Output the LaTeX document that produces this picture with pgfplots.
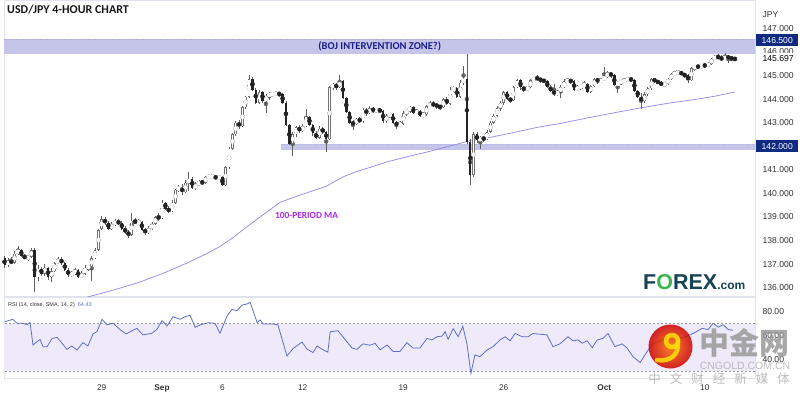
\documentclass[border=0pt]{standalone}
\usepackage{pgfplots}
\pgfplotsset{compat=1.18}
\usepackage{pgfplotstable}
\usepackage{fontspec}
\setmainfont{Liberation Sans}
\newfontfamily\carlito{Carlito}
\newfontfamily\cjk{Noto Sans CJK SC}
\definecolor{zonec}{RGB}{196,197,232}
\definecolor{zoneedge}{RGB}{172,172,222}
\definecolor{wickc}{RGB}{95,95,95}
\definecolor{bearc}{RGB}{35,35,35}
\definecolor{bulledge}{RGB}{115,115,115}
\definecolor{mac}{RGB}{155,138,232}
\definecolor{malabel}{RGB}{170,40,240}
\definecolor{bojc}{RGB}{30,30,140}
\definecolor{navyc}{RGB}{16,42,128}
\definecolor{rsic}{RGB}{96,110,200}
\definecolor{rsifill}{RGB}{238,234,250}
\definecolor{linegray}{RGB}{224,227,235}
\definecolor{ticktext}{RGB}{50,50,50}
\definecolor{dashc}{RGB}{150,150,160}
\definecolor{forexteal}{RGB}{22,68,82}
\definecolor{forexgreen}{RGB}{60,180,75}

\pgfplotstableread{
i o h l c
0 137.25 137.35 136.85 136.95
1 136.95 137.25 136.90 137.15
2 137.15 137.30 137.00 137.05
3 137.05 137.55 137.00 137.45
4 137.45 137.75 137.40 137.60
5 137.60 137.65 137.30 137.35
6 137.35 137.45 137.20 137.25
7 137.25 137.40 137.15 137.30
8 137.30 137.70 137.25 137.60
9 137.60 137.70 135.80 136.45
10 136.45 136.95 136.30 136.80
11 136.80 136.90 136.50 136.60
12 136.60 137.00 136.50 136.85
13 136.85 136.90 136.35 136.45
14 136.45 136.85 136.25 136.70
15 136.70 137.10 136.65 137.05
16 137.05 137.30 137.00 137.20
17 137.20 137.30 136.95 137.05
18 137.05 137.10 136.70 136.75
19 136.75 136.85 136.45 136.55
20 136.55 136.70 136.45 136.60
21 136.60 136.85 136.55 136.75
22 136.75 136.80 136.40 136.45
23 136.45 136.70 136.40 136.60
24 136.60 136.95 136.55 136.85
25 136.85 136.95 136.70 136.90
26 136.90 137.35 136.30 137.25
27 137.25 137.70 137.20 137.60
28 137.60 138.50 137.55 138.45
29 138.50 139.05 138.45 138.90
30 138.90 139.00 138.65 138.75
31 138.75 138.85 138.45 138.50
32 138.50 138.80 138.45 138.70
33 138.70 138.90 138.60 138.80
34 138.80 138.90 138.65 138.75
35 138.75 138.85 138.45 138.50
36 138.50 138.60 138.30 138.35
37 138.35 138.45 138.10 138.25
38 138.25 139.15 138.20 138.85
39 138.85 138.95 138.70 138.75
40 138.75 138.90 138.70 138.80
41 138.80 138.85 138.40 138.45
42 138.45 138.55 138.25 138.35
43 138.35 138.60 138.30 138.50
44 138.50 138.80 138.45 138.70
45 138.70 139.05 138.65 139.00
46 139.00 139.15 138.85 138.95
47 138.95 139.70 138.90 139.60
48 139.60 139.65 139.30 139.35
49 139.35 139.45 139.15 139.25
50 139.25 139.70 139.20 139.60
51 139.60 140.20 139.55 140.15
52 140.15 140.35 140.05 140.25
53 140.25 140.40 139.95 140.05
54 140.05 140.55 140.00 140.45
55 140.45 140.90 140.10 140.60
56 140.60 140.70 140.20 140.25
57 140.25 140.50 140.15 140.35
58 140.35 140.55 140.30 140.50
59 140.50 140.55 140.35 140.45
60 140.45 140.75 140.40 140.70
61 140.70 140.75 140.65 140.70
62 140.70 140.78 140.65 140.72
63 140.72 140.75 140.60 140.65
64 140.65 140.75 140.60 140.70
65 140.70 140.75 140.30 140.35
66 140.35 141.15 140.30 141.10
67 141.10 141.95 141.05 141.90
68 141.90 142.55 141.85 142.50
69 142.50 143.05 142.45 143.00
70 143.00 143.10 142.75 142.85
71 142.85 143.70 142.80 143.65
72 143.65 144.15 143.60 144.10
73 144.10 145.00 144.05 144.85
74 144.85 144.95 144.35 144.40
75 144.40 144.45 143.80 143.85
76 143.85 144.40 143.80 144.30
77 144.30 144.35 143.85 143.90
78 143.90 144.20 143.40 144.15
79 144.15 144.30 143.95 144.20
80 144.20 144.30 144.10 144.20
81 144.20 144.30 144.15 144.25
82 144.25 144.30 144.10 144.20
83 144.20 144.25 143.80 143.85
84 143.85 143.90 142.85 142.90
85 142.90 142.95 142.05 142.10
86 142.10 142.60 141.60 142.50
87 142.50 142.85 142.40 142.80
88 142.80 142.90 142.55 142.65
89 142.65 142.95 142.60 142.85
90 142.85 143.60 142.80 143.25
91 143.25 143.30 142.85 142.90
92 142.90 142.95 142.45 142.55
93 142.55 142.65 142.30 142.35
94 142.35 142.85 142.30 142.75
95 142.75 142.80 142.50 142.60
96 142.60 142.65 141.75 142.30
97 142.30 144.55 142.25 144.50
98 144.50 144.70 144.40 144.60
99 144.60 144.70 144.40 144.50
100 144.50 145.00 144.45 144.75
101 144.75 144.80 144.00 144.05
102 144.05 144.10 143.40 143.45
103 143.45 143.50 142.95 143.00
104 143.00 143.10 142.70 142.95
105 142.95 143.20 142.90 143.15
106 143.15 143.25 143.00 143.05
107 143.05 143.60 143.00 143.55
108 143.55 143.60 143.30 143.40
109 143.40 143.70 143.35 143.60
110 143.60 143.65 143.40 143.50
111 143.50 143.60 143.45 143.55
112 143.55 143.60 143.40 143.50
113 143.50 143.55 143.00 143.05
114 143.05 143.35 143.00 143.30
115 143.30 143.40 143.20 143.35
116 143.35 143.40 142.95 143.00
117 143.00 143.05 142.75 142.90
118 142.90 143.05 142.85 142.95
119 142.95 143.50 142.90 143.40
120 143.40 143.55 143.30 143.50
121 143.50 143.70 143.40 143.65
122 143.65 143.70 143.35 143.40
123 143.40 143.60 143.35 143.50
124 143.50 143.55 143.25 143.30
125 143.30 143.45 143.25 143.35
126 143.35 143.75 143.30 143.70
127 143.70 143.90 143.65 143.80
128 143.80 143.90 143.65 143.75
129 143.75 143.85 143.60 143.70
130 143.70 143.75 143.55 143.65
131 143.65 144.05 143.60 144.00
132 144.00 144.10 143.75 143.80
133 143.80 144.50 143.75 144.40
134 144.40 144.55 144.30 144.45
135 144.45 144.50 144.05 144.10
136 144.10 144.80 144.05 144.70
137 144.70 145.40 144.60 144.85
138 144.85 145.90 142.10 142.20
139 142.20 142.30 140.35 140.80
140 140.80 142.60 140.70 142.50
141 142.50 142.60 142.15 142.25
142 142.25 142.45 141.90 142.35
143 142.35 142.45 142.20 142.30
144 142.30 142.70 142.25 142.60
145 142.60 143.05 142.55 143.00
146 143.00 143.35 142.95 143.30
147 143.30 143.70 143.25 143.60
148 143.60 143.90 143.50 143.85
149 143.85 144.35 143.75 144.30
150 144.30 144.35 143.95 144.00
151 144.00 144.10 143.85 143.95
152 143.95 144.55 143.90 144.50
153 144.50 144.85 144.45 144.80
154 144.80 144.85 144.40 144.50
155 144.50 144.55 144.30 144.40
156 144.40 144.55 144.35 144.50
157 144.50 144.85 144.45 144.80
158 144.80 144.95 144.75 144.90
159 144.90 145.00 144.80 144.85
160 144.85 144.90 144.70 144.80
161 144.80 144.85 144.70 144.75
162 144.75 144.80 144.45 144.50
163 144.50 144.60 144.30 144.35
164 144.35 144.65 144.15 144.20
165 144.20 144.40 144.15 144.30
166 144.30 144.60 144.05 144.50
167 144.50 144.85 144.45 144.75
168 144.75 144.90 144.70 144.80
169 144.80 144.85 144.65 144.75
170 144.75 144.80 144.35 144.40
171 144.40 144.60 144.35 144.50
172 144.50 144.60 144.40 144.55
173 144.55 144.75 144.50 144.65
174 144.65 144.70 144.25 144.30
175 144.30 144.60 144.25 144.55
176 144.55 144.90 144.50 144.85
177 144.85 144.90 144.65 144.75
178 144.75 144.90 144.70 144.80
179 144.80 145.35 144.75 144.95
180 144.95 145.20 144.90 145.10
181 145.10 145.15 144.90 145.00
182 145.00 145.05 144.55 144.60
183 144.60 144.75 144.25 144.70
184 144.70 144.80 144.60 144.75
185 144.75 144.90 144.70 144.80
186 144.80 144.90 144.75 144.85
187 144.85 144.95 144.75 144.80
188 144.80 144.85 144.30 144.35
189 144.35 144.40 144.05 144.10
190 144.10 144.25 143.60 143.90
191 143.90 144.30 143.85 144.20
192 144.20 144.50 144.15 144.45
193 144.45 144.90 144.40 144.85
194 144.85 144.90 144.70 144.75
195 144.75 144.80 144.65 144.70
196 144.70 144.75 144.55 144.60
197 144.60 144.70 144.55 144.65
198 144.65 144.90 144.60 144.85
199 144.85 145.10 144.80 145.05
200 145.05 145.20 145.00 145.10
201 145.10 145.25 145.05 145.15
202 145.15 145.20 145.00 145.05
203 145.05 145.10 144.90 145.00
204 145.00 145.05 144.70 144.80
205 144.80 145.35 144.75 145.30
206 145.30 145.45 145.20 145.40
207 145.40 145.45 145.30 145.35
208 145.35 145.50 145.30 145.45
209 145.45 145.50 145.35 145.40
210 145.40 145.55 145.35 145.50
211 145.50 145.75 145.45 145.70
212 145.70 145.85 145.65 145.80
213 145.80 145.90 145.70 145.75
214 145.75 145.85 145.60 145.70
215 145.70 145.95 145.65 145.80
216 145.80 145.85 145.55 145.75
217 145.75 145.80 145.60 145.72
218 145.72 145.78 145.60 145.697
}\candles

\pgfplotstableread{
i p
18 135.30
24.6 135.60
32 135.88
40 136.22
48 136.65
54.5 137.05
60 137.42
64.3 137.75
68 138.10
72 138.55
76.3 139.00
82.2 139.62
88 139.92
96 140.30
101 140.70
105 140.92
109 141.10
114 141.33
120 141.55
126 141.75
132 141.97
138 142.20
143 142.32
151 142.55
159 142.80
166 142.97
174 143.20
182 143.42
190 143.63
198 143.82
206 143.98
212 144.12
218 144.30
}\matable

\pgfplotstableread{
i v
0.1 71.6
2.5 73.6
3.7 70.3
5.5 70.3
6.7 69.0
7.6 71.0
8.5 52.0
9.7 54.8
10.6 56.7
11.5 50.6
12.7 50.6
14.2 57.6
15.7 58.4
17.2 53.4
18.6 48.4
20.1 51.2
21.6 47.8
23.4 54.0
24.9 51.2
26.4 61.3
27.6 63.3
29.1 73.6
30.6 69.0
32.4 70.3
34.5 64.9
36.3 61.3
38.0 64.0
39.5 66.0
41.3 60.5
44.0 61.9
45.5 65.2
47.0 72.5
48.5 68.0
50.3 75.8
52.4 73.6
53.9 75.8
55.4 76.9
56.9 66.8
58.3 68.8
60.7 70.7
62.8 70.3
64.3 61.9
66.4 76.3
67.9 82.0
69.4 80.8
70.9 85.6
72.4 86.5
73.3 87.9
75.4 70.9
76.3 73.0
77.2 69.7
80.1 69.7
81.6 68.9
84.3 42.8
86.1 49.0
88.8 54.5
90.3 48.5
92.1 45.7
93.3 51.2
94.8 48.4
96.5 46.0
97.2 63.2
99.5 64.0
101.0 59.0
103.7 49.5
105.2 48.4
107.0 53.0
109.1 51.8
110.6 53.4
112.1 48.0
114.2 52.0
116.0 46.5
118.0 46.5
120.1 54.0
121.9 49.5
124.0 49.5
126.1 57.6
127.6 56.3
129.1 59.0
130.6 59.5
131.5 63.2
132.4 56.8
133.9 65.8
135.4 59.0
136.8 67.7
138.0 53.2
139.2 28.2
140.4 43.7
141.9 42.2
144.0 47.8
145.8 50.6
147.9 56.3
149.4 59.0
150.9 55.5
152.4 61.7
154.5 59.0
156.3 59.0
157.7 61.7
159.8 61.1
161.9 60.5
163.7 50.6
165.8 53.0
168.2 59.0
169.7 55.5
171.2 56.3
172.4 53.5
173.9 55.5
175.4 49.8
176.9 56.3
178.6 57.6
180.1 61.7
182.2 50.6
184.3 53.0
185.8 49.5
187.6 42.2
189.7 37.3
191.8 46.5
193.6 53.5
196.6 56.0
199.5 60.0
202.5 58.0
205.5 61.7
208.2 66.0
210.0 65.0
211.5 70.3
213.0 67.0
214.5 69.0
216.0 65.0
217.4 64.43
}\rsitable

\newcommand{\tickfont}{\fontsize{8.6}{10}\selectfont}

\begin{document}
\begin{tikzpicture}[x=1pt,y=1pt]
\useasboundingbox (0,0) rectangle (805,397);
\fill[white] (0,0) rectangle (805,397);

% ---------------- main price pane ----------------
\begin{axis}[
  at={(4pt,100.3pt)}, anchor=south west,
  scale only axis, width=751pt, height=296.7pt,
  xmin=-0.16, xmax=224, ymin=135.62, ymax=148.2,
  clip mode=individual,
  axis line style={draw=linegray, line width=0.8pt},
  xtick=\empty,
  ytick={136,137,138,139,140,141,143,144,145,147},
  yticklabel pos=right,
  major tick length=0pt,
  yticklabel style={font=\tickfont, text=ticktext, xshift=4pt},
  /pgf/number format/fixed, /pgf/number format/fixed zerofill,
  /pgf/number format/precision=3, /pgf/number format/assume math mode=true,
]
% zones
\addplot[fill=zonec, draw=none, forget plot] coordinates {(-1,145.90) (230,145.90) (230,146.55) (-1,146.55)} -- cycle;
\addplot[zoneedge, dash pattern=on 1.5pt off 1.5pt, line width=0.4pt, forget plot] coordinates {(-1,146.55) (230,146.55)};
\addplot[fill=zonec, draw=none, forget plot] coordinates {(82.4,141.82) (230,141.82) (230,142.10) (82.4,142.10)} -- cycle;
\addplot[zoneedge, dash pattern=on 1.5pt off 1.5pt, line width=0.4pt, forget plot] coordinates {(82.4,142.10) (230,142.10)};

% moving average
\addplot[mac, line width=0.75pt, mark=none, forget plot] table[x=i, y=p] {\matable};

% wicks
\addplot[only marks, mark=none, forget plot, color=wickc,
  error bars/.cd, y dir=both, y explicit, error mark=none,
  error bar style={draw=wickc, line width=0.7pt}]
  table[x=i, y expr={(\thisrow{h}+\thisrow{l})/2}, y error expr={(\thisrow{h}-\thisrow{l})/2}] {\candles};
% bull bodies: outline
\addplot[only marks, mark=none, forget plot, color=bulledge, unbounded coords=discard,
  error bars/.cd, y dir=both, y explicit, error mark=none,
  error bar style={draw=bulledge, line width=2.5pt}]
  table[x=i, y expr={\thisrow{c}>=\thisrow{o} ? (\thisrow{o}+\thisrow{c})/2 : nan},
        y error expr={max(abs(\thisrow{c}-\thisrow{o})/2,0.022)}] {\candles};
% bull bodies: white inside
\addplot[only marks, mark=none, forget plot, color=white, unbounded coords=discard,
  error bars/.cd, y dir=both, y explicit, error mark=none,
  error bar style={draw=white, line width=1.3pt}]
  table[x=i, y expr={\thisrow{c}>=\thisrow{o} ? (\thisrow{o}+\thisrow{c})/2 : nan},
        y error expr={max(abs(\thisrow{c}-\thisrow{o})/2-0.025,0)}] {\candles};
% bear bodies
\addplot[only marks, mark=none, forget plot, color=bearc, unbounded coords=discard,
  error bars/.cd, y dir=both, y explicit, error mark=none,
  error bar style={draw=bearc, line width=2.5pt}]
  table[x=i, y expr={\thisrow{c}<\thisrow{o} ? (\thisrow{o}+\thisrow{c})/2 : nan},
        y error expr={max(abs(\thisrow{c}-\thisrow{o})/2,0.022)}] {\candles};

% annotations
\node[font=\carlito\bfseries\fontsize{10.5}{12}\selectfont, text=bojc] at (axis cs:112,146.22) {(BOJ INTERVENTION ZONE?)};
\node[anchor=west, inner sep=0pt, font=\carlito\bfseries\fontsize{9.4}{11}\selectfont, text=malabel] at (axis cs:80.7,139.08) {100-PERIOD MA};

% right-hand price labels
\node[anchor=west, font=\tickfont, text=ticktext, xshift=4pt] at (axis cs:224,146) {146.000};
\node[anchor=west, font=\tickfont, text=black, fill=white, xshift=4pt, inner ysep=3pt] at (axis cs:224,145.697) {145.697};
\node[anchor=west, font=\tickfont, text=white, fill=navyc, xshift=1pt, inner xsep=5.5pt, inner ysep=3pt] at (axis cs:224,146.5) {146.500};
\node[anchor=west, font=\tickfont, text=white, fill=navyc, xshift=1pt, inner xsep=5.5pt, inner ysep=3pt] at (axis cs:224,142.0) {142.000};
\node[anchor=west, font=\tickfont, text=ticktext] at ([xshift=4pt,yshift=-15pt]rel axis cs:1,1) {JPY};
\end{axis}

% ---------------- RSI pane ----------------
\begin{axis}[
  at={(4pt,19pt)}, anchor=south west,
  scale only axis, width=751pt, height=81pt,
  xmin=-0.16, xmax=224, ymin=24.3, ymax=92.35,
  clip mode=individual,
  axis line style={draw=linegray, line width=0.8pt},
  xtick={29,47,65,89,119,149,179,209},
  xticklabels={29,\textbf{Sep},6,12,19,26,\textbf{Oct},10},
  xticklabel style={font=\fontsize{8.3}{10}\selectfont, text=ticktext, anchor=base, yshift=-12pt},
  ytick={40,60,80},
  yticklabel pos=right,
  major tick length=0pt,
  yticklabel style={font=\tickfont, text=ticktext, xshift=4pt},
  /pgf/number format/fixed, /pgf/number format/fixed zerofill,
  /pgf/number format/precision=2, /pgf/number format/assume math mode=true,
]
\addplot[fill=rsifill, draw=none, forget plot] coordinates {(-1,30) (230,30) (230,70) (-1,70)} -- cycle;
\addplot[dashc, dash pattern=on 2pt off 2pt, line width=0.6pt, forget plot] coordinates {(-1,70) (230,70)};
\addplot[dashc, dash pattern=on 2pt off 2pt, line width=0.6pt, forget plot] coordinates {(-1,30) (230,30)};
\addplot[rsic, line width=0.8pt, mark=none] table[x=i, y=v] {\rsitable};
\node[anchor=west, inner sep=0pt, font=\fontsize{5.5}{6}\selectfont, text=ticktext] at ([xshift=4pt,yshift=-8pt]rel axis cs:0,1) {RSI (14, close, SMA, 14, 2)\ \ {\color{rsic}64.43}};
\end{axis}

% ---------------- title and logos ----------------
\node[anchor=base west, inner sep=0pt, font=\carlito\bfseries\fontsize{12}{14}\selectfont, text=black!90] at (7,383) {USD/JPY 4-HOUR CHART};

\node[anchor=base west, inner sep=0pt, font=\bfseries\fontsize{21.5}{24}\selectfont, text=forexteal] at (643,107.7) {F{\color{forexgreen}O}REX{\fontsize{12}{14}\selectfont.com}};

% watermark
\begin{scope}[opacity=0.85]
\shade[inner color=orange!85!red, outer color=red!80!black] (670.5,50.5) circle (22);
\draw[yellow!85!orange, line width=4.5pt] (672,56) circle (6);
\draw[yellow!85!orange, line width=4.5pt, line cap=round] (678,55) .. controls (679,42) and (670,35) .. (657,37);
\node[font=\cjk\bfseries\fontsize{30}{32}\selectfont, text=black!40] at (744,54) {中金网};
\node[font=\fontsize{10.5}{12}\selectfont, text=black!30] at (745,31) {CNGOLD.COM.CN};
\node[font=\cjk\fontsize{12.5}{14}\selectfont, text=black!30] at (719,18.5) {中\hspace{9pt}文\hspace{9pt}财\hspace{9pt}经\hspace{9pt}新\hspace{9pt}媒\hspace{9pt}体};
\end{scope}
\end{tikzpicture}
\end{document}
